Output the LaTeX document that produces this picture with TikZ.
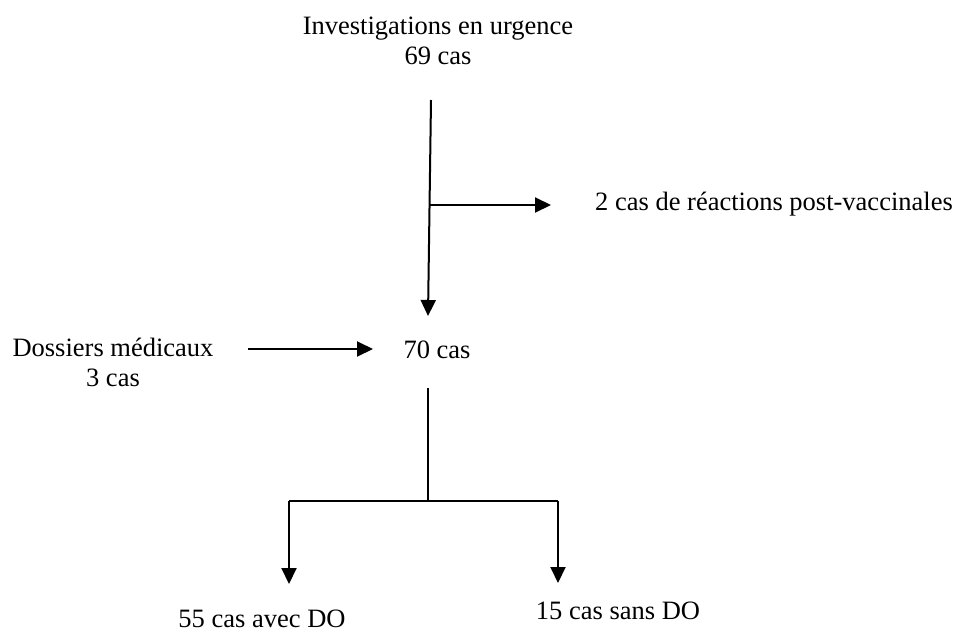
\documentclass[tikz,border=0pt]{standalone}
\usepackage{fontspec}
\setmainfont{Liberation Serif}
\usetikzlibrary{arrows.meta}
\begin{document}
\begin{tikzpicture}[x=1pt,y=-1pt,line width=2pt,
    every node/.style={font=\fontsize{26.5}{30}\selectfont,inner sep=0pt,align=center},
    fleche/.style={-{Triangle[length=16pt,width=15pt]}}]
    \useasboundingbox (0,0) rectangle (962,632);

        \node (inv) at (438,41) {Investigations en urgence\\69 cas};
        \node (rpv) at (774,204) {2 cas de réactions post-vaccinales};
        \node (dos) at (113,362) {Dossiers médicaux\\3 cas};
        \node (tot) at (437,350) {70 cas};
        \node (avec) at (262,619) {55 cas avec DO};
        \node (sans) at (618,611) {15 cas sans DO};

        \coordinate (h) at (431,100);
        \coordinate (b) at (430,205);
        \coordinate (m) at (428,388);
        \coordinate (j) at (428,501);
        \coordinate (g) at (289,501);
        \coordinate (d) at (558,501);

        \draw[fleche] (h) -- (428,316);
        \draw[fleche] (b) -- (551,205);
        \draw[fleche] (248,349) -- (373,349);
        \draw (m) -- (j);
        \draw[line width=1.4pt] (g) -- (d);
        \draw[fleche] (g) -- (289,584);
        \draw[fleche] (d) -- (558,583);

    \end{tikzpicture}
\end{document}
